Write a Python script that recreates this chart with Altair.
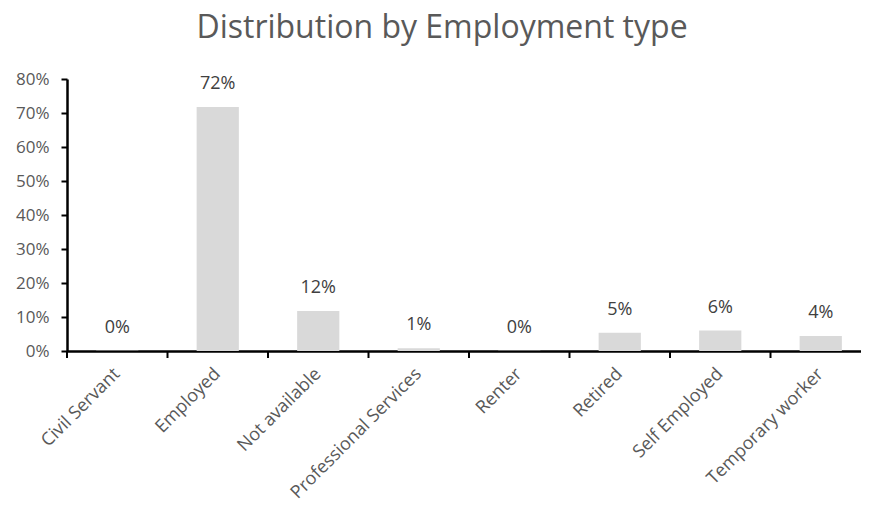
import altair as alt
import pandas as pd

categories = ["Civil Servant", "Employed", "Not available", "Professional Services",
              "Renter", "Retired", "Self Employed", "Temporary worker"]
shares = [0.001, 0.718, 0.118, 0.008, 0.001, 0.054, 0.060, 0.044]
y_ticks = [0, 0.1, 0.2, 0.3, 0.4, 0.5, 0.6, 0.7, 0.8]

df = pd.DataFrame({"category": categories, "share": shares})

FONT = "Open Sans"

xscale = alt.Scale(paddingInner=0, paddingOuter=0, range=[0, 804])
x = alt.X("category:N", sort=categories, title=None, scale=xscale,
          axis=alt.Axis(labelAngle=-45, labelAlign="right", labelBaseline="middle",
                        labelFontSize=18, labelColor="#595959", labelFont=FONT,
                        labelOverlap=False, labelLimit=400, ticks=False,
                        domainColor="black", domainWidth=2.5, labelPadding=20))
y = alt.Y("share:Q", title=None,
          scale=alt.Scale(domain=[0, 0.8], nice=False),
          axis=alt.Axis(values=y_ticks, format=".0%", grid=False,
                        labelFontSize=17, labelColor="#595959", labelFont=FONT,
                        labelOverlap=False,
                        tickColor="black", tickWidth=2, tickSize=6,
                        domainColor="black", domainWidth=2.5, labelPadding=12))

bars = alt.Chart(df).mark_bar(color="#d9d9d9",
                              width=alt.RelativeBandSize(0.42)).encode(x=x, y=y)
ticks = alt.Chart(df).mark_rule(color="black", strokeWidth=2).encode(
    x=alt.X("category:N", sort=categories, bandPosition=0),
    y=alt.value(272), y2=alt.value(279))
labels = alt.Chart(df).mark_text(dy=-23, fontSize=18, color="#404040", font=FONT,
                                 baseline="middle").encode(
    x=alt.X("category:N", sort=categories),
    y=y,
    text=alt.Text("share:Q", format=".0%"))

chart = (bars + ticks + labels).properties(
    width=794, height=272,
    title=alt.TitleParams("Distribution by Employment type", fontSize=32,
                          color="#595959", font=FONT, fontWeight="normal",
                          anchor="middle", offset=25, dx=-22),
    autosize=alt.AutoSizeParams(type="none"),
    padding={"left": 59, "top": 71, "right": 0, "bottom": 155},
).configure_view(stroke=None)

chart.save("out.html", embed_options={"renderer": "svg", "actions": False})
